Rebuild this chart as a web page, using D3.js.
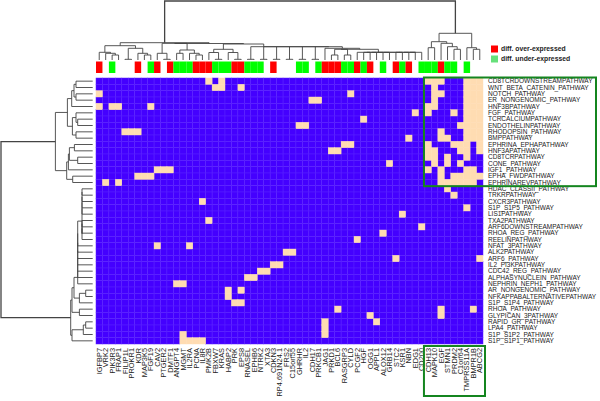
<!DOCTYPE html>
<html>
<head>
<meta charset="utf-8">
<script src="https://cdn.jsdelivr.net/npm/d3@7"></script>
<style>
  body { margin: 0; background: #fff; }
  text { font-family: "Liberation Sans", Arial, sans-serif; }
</style>
</head>
<body>
<div id="my_dataviz"></div>
<script>
const rowNames = ["CD8TCRDOWNSTREAMPATHWAY","WNT_BETA_CATENIN_PATHWAY","NOTCH_PATHWAY","ER_NONGENOMIC_PATHWAY","HNF3BPATHWAY","FGF_PATHWAY","TCRCALCIUMPATHWAY","ENDOTHELINPATHWAY","RHODOPSIN_PATHWAY","BMPPATHWAY","EPHRINA_EPHAPATHWAY","HNF3APATHWAY","CD8TCRPATHWAY","CONE_PATHWAY","IGF1_PATHWAY","EPHA_FWDPATHWAY","EPHRINAREVPATHWAY","HDAC_CLASSII_PATHWAY","TRKRPATHWAY","CXCR3PATHWAY","S1P_S1P5_PATHWAY","LIS1PATHWAY","TXA2PATHWAY","ARF6DOWNSTREAMPATHWAY","RHOA_REG_PATHWAY","REELINPATHWAY","NFAT_3PATHWAY","ALK2PATHWAY","ARF6_PATHWAY","IL2_PI3KPATHWAY","CDC42_REG_PATHWAY","ALPHASYNUCLEIN_PATHWAY","NEPHRIN_NEPH1_PATHWAY","AR_NONGENOMIC_PATHWAY","NFKAPPABALTERNATIVEPATHWAY","S1P_S1P4_PATHWAY","RHOA_PATHWAY","GLYPICAN_3PATHWAY","RAPID_GR_PATHWAY","LPA4_PATHWAY","S1P_S1P2_PATHWAY","S1P_S1P1_PATHWAY"];

const colNames = ["IGFBP7","VRK2","PIK3R3","FRAP1","FILIP1L","PROKR1","KDR","MAP3K5","FGF19","CAV2","PTGER2","DMTF1","ANGPT4","MGMT","IL2RA","PCNA","IL8R","PMK2B","FBXW7","KRAS","HABP2","PRK","EPS8","RNASEL","EPHB6","NTRK2","XTA3","CDKN3","RP4.691N24.1","FRS2","C15orf55","GHRHR","IL2","CDH17","PRKCB1","JAG1","PRKD1","BCL6","RASGRP3","CYLD","PCGF2","HGF","OGG1","APPL1","ALOX12","GRB14","STC2","KSR1","NBN","EDG1","CD200","CDH13","MAPK10","EGF","STMN1","PRDM2","C1orf64","TMPRSS11A","BMPR1B","ABCG2"];

// which columns are set in each row
const rowHits = [
  [17,19,51,52,53,57,58,59],
  [18,19,22,52,57,58,59],
  [0,39,52,53,57,58,59],
  [33,34,52,57,58,59],
  [0,2,3,8,51,52,57,58,59],
  [49,51,55,57,58,59],
  [41,57,58,59],
  [31,32,56,57,58,59],
  [4,5,6,53,57,58,59],
  [48,53,54,57,58,59],
  [38,39,51,55,56,57,59],
  [36,37,51,52,56,57,59],
  [51,52,54,57],
  [45,52,54,56],
  [9,10,11,51,53,57,58],
  [6,7,8,53,55,56,57,58,59],
  [1,3,53,54,55,56,57,58],
  [54],[55],[16],[57],[47],[17],[50],[44],[40],
  [9,14],[29,30],[46,59],[27,28],[25,26],[23,24],[12,13],
  [20,22],[20],[21,22],
  [37,53,58],[42,53],[35,43],[35],[13,35],[13,14,15,16]
];

// u = over-expressed, d = under-expressed, - = no call
const colFlags = ["u","-","d","-","-","-","u","-","d","u","-","u","d","d","d","u","u","u","d","d","d","u","u","d","d","d","-","u","-","-","-","d","d","-","d","u","u","u","d","d","u","d","u","-","d","-","u","d","u","-","d","d","d","u","d","d","-","d","-","-"];

// dendrogram merges: [left, right, height], leaves are indexes
const colTree = [
  [
    [
      [0,[1,[2,3,5],6.7],7.7],
      [[4,5,0.7],[6,[7,8,5],6.7],11.7],
      14.3
    ],
    [
      [[9,[10,11,0.7],6.7],[[12,13,6.7],[14,[15,16,5],6.7],10],16.7],
      [
        [[17,[18,19,0.7],7.5],[20,[21,22,0.7],7.5],10.7],
        [[23,24,0.7],[[25,26,0.7],[[27,28,0.7],[[29,30,0.7],[[31,32,0.7],[[33,34,0.7],
          [35,
            [[[36,37,5],[38,39,5],10.7],
             [40,[[[[[41,42,7.7],43,7.7],44,7.7],45,7.7],[[[[46,47,7.7],48,7.7],49,7.7],50,7.7],7.7],7.7],
             10.7],
            11.7],
        13.3],13.3],13.3],13.3],13.3],13.3],
        16
      ],
      16.5
    ],
    17.3
  ],
  [
    [[51,52,12.3],[53,[54,[55,56,10.7],13.3],16.7],18.3],
    [57,[58,59,10.7],12.3],
    26.7
  ],
  59
];

const rowTree = [
  [
    [
      [[[0,1,16.7],[2,3,16.7],18.7],4,21],
      [[5,[6,7,15],16.7],[8,9,16.7],20.3],
      25.3
    ],
    [
      [[[10,11,18.3],[12,13,15],23.3],14,24.3],
      [15,16,20],
      26
    ],
    37.3
  ],
  [
    [
      [
        [[[[[[[
          [[[[[17,18,10.7],19,10.7],20,10.7],21,10.7],[[[22,23,10.7],24,10.7],25,10.7],10.7],
          26,15],27,15],28,15],29,15],30,15],31,15],32,15],
        [[33,34,7],35,13.3],
        18.7
      ],
      [36,37,13.3],
      20.7
    ],
    [[[38,39,7],40,9.4],41,20.7],
    22
  ],
  91.7
];

const legendLabels = ["diff. over-expressed","diff. under-expressed"];

const width = 600, height = 401;
const blue = "#4400ff", tan = "#ffdcb2", red = "#ff0000", green = "#00ff00";

const svg = d3.select("#my_dataviz")
  .append("svg")
  .attr("width", width)
  .attr("height", height)
  .style("display", "block");

const x = d3.scaleBand().domain(colNames).range([96, 483]);
const y = d3.scaleBand().domain(rowNames).range([78, 344]);

// heat map, one rect per cell
const cells = [];
rowNames.forEach(function(r, i) {
  colNames.forEach(function(c, j) {
    cells.push({row: r, col: c, on: rowHits[i].includes(j)});
  });
});

svg.append("g").selectAll("rect")
  .data(cells.slice().sort((a, b) => a.on - b.on))
  .join("rect")
    .attr("x", d => x(d.col))
    .attr("y", d => y(d.row))
    .attr("width", x.bandwidth())
    .attr("height", y.bandwidth())
    .attr("fill", d => d.on ? tan : blue)
    .attr("stroke", d => d.on ? tan : "#5a22ff")
    .attr("stroke-width", d => d.on ? 0.4 : 0.5);

// colour bar above the map
svg.append("g").selectAll("rect")
  .data(colNames)
  .join("rect")
    .attr("x", d => x(d))
    .attr("y", 61.5)
    .attr("width", x.bandwidth())
    .attr("height", 11.5)
    .attr("fill", (d, i) => colFlags[i] === "u" ? red : colFlags[i] === "d" ? green : "none");

// labels
const yAxis = svg.append("g")
  .attr("transform", "translate(485,0)")
  .call(d3.axisRight(y).tickSize(0).tickPadding(3));
yAxis.select(".domain").remove();
yAxis.selectAll("text")
  .attr("font-size", 6.5)
  .attr("fill", "#222");

const xAxis = svg.append("g")
  .attr("transform", "translate(0,345)")
  .call(d3.axisBottom(x).tickSize(0).tickPadding(3));
xAxis.select(".domain").remove();
xAxis.selectAll("text")
  .attr("font-size", 7.4)
  .attr("fill", "#222")
  .attr("transform", "rotate(-90)")
  .attr("text-anchor", "end")
  .attr("x", -3)
  .attr("y", 0)
  .attr("dy", "0.35em");

// dendrograms
const colH = d3.scaleLinear().domain([0, 59]).range([60, 1]);
const rowH = d3.scaleLinear().domain([0, 91.7]).range([92.7, 1]);

function walkTree(node, pos, segs) {
  if (typeof node === "number") return {p: pos(node), h: 0};
  const a = walkTree(node[0], pos, segs);
  const b = walkTree(node[1], pos, segs);
  segs.push({p0: a.p, p1: b.p, h0: a.h, h1: b.h, h: node[2]});
  return {p: (a.p + b.p) / 2, h: node[2]};
}

const colSegs = [];
walkTree(colTree, i => x(colNames[i]) + x.bandwidth() / 2, colSegs);
svg.append("g").selectAll("path")
  .data(colSegs)
  .join("path")
    .attr("fill", "none")
    .attr("stroke", "#444")
    .attr("stroke-width", d => d.h > 50 ? 1.3 : 0.9)
    .attr("d", d => `M${d.p0},${colH(d.h0)}V${colH(d.h)}H${d.p1}V${colH(d.h1)}`);

const rowSegs = [];
walkTree(rowTree, i => y(rowNames[i]) + y.bandwidth() / 2, rowSegs);
svg.append("g").selectAll("path")
  .data(rowSegs)
  .join("path")
    .attr("fill", "none")
    .attr("stroke", "#444")
    .attr("stroke-width", d => d.h > 50 ? 1.3 : 0.9)
    .attr("d", d => `M${rowH(d.h0)},${d.p0}H${rowH(d.h)}V${d.p1}H${rowH(d.h1)}`);

// legend
const legendY = d3.scalePoint().domain(legendLabels).range([49, 59]);
const legendColor = d3.scaleOrdinal().domain(legendLabels).range([red, "#66e07a"]);
const legend = svg.append("g").selectAll("g")
  .data(legendLabels)
  .join("g")
    .attr("transform", d => `translate(491,${legendY(d)})`);
legend.append("rect")
  .attr("y", -3.5)
  .attr("width", 7)
  .attr("height", 7)
  .attr("fill", d => legendColor(d));
legend.append("text")
  .attr("x", 10)
  .attr("dy", "0.35em")
  .attr("font-size", 6.8)
  .attr("font-weight", "bold")
  .attr("fill", "#222")
  .text(d => d);

// green highlight boxes, anchored on the cluster they mark
const boxLeft = x("CDH13") - 1;
const boxes = [
  {x0: boxLeft, y0: y(rowNames[0]) - 0.5, x1: 596, y1: y("EPHRINAREVPATHWAY") + y.bandwidth() + 0.5},
  {x0: boxLeft, y0: 346, x1: x.range()[1] + 2, y1: 396}
];
svg.append("g").selectAll("rect")
  .data(boxes)
  .join("rect")
    .attr("x", d => d.x0)
    .attr("y", d => d.y0)
    .attr("width", d => d.x1 - d.x0)
    .attr("height", d => d.y1 - d.y0)
    .attr("fill", "none")
    .attr("stroke", "#14851f")
    .attr("stroke-width", 2);
</script>
</body>
</html>
